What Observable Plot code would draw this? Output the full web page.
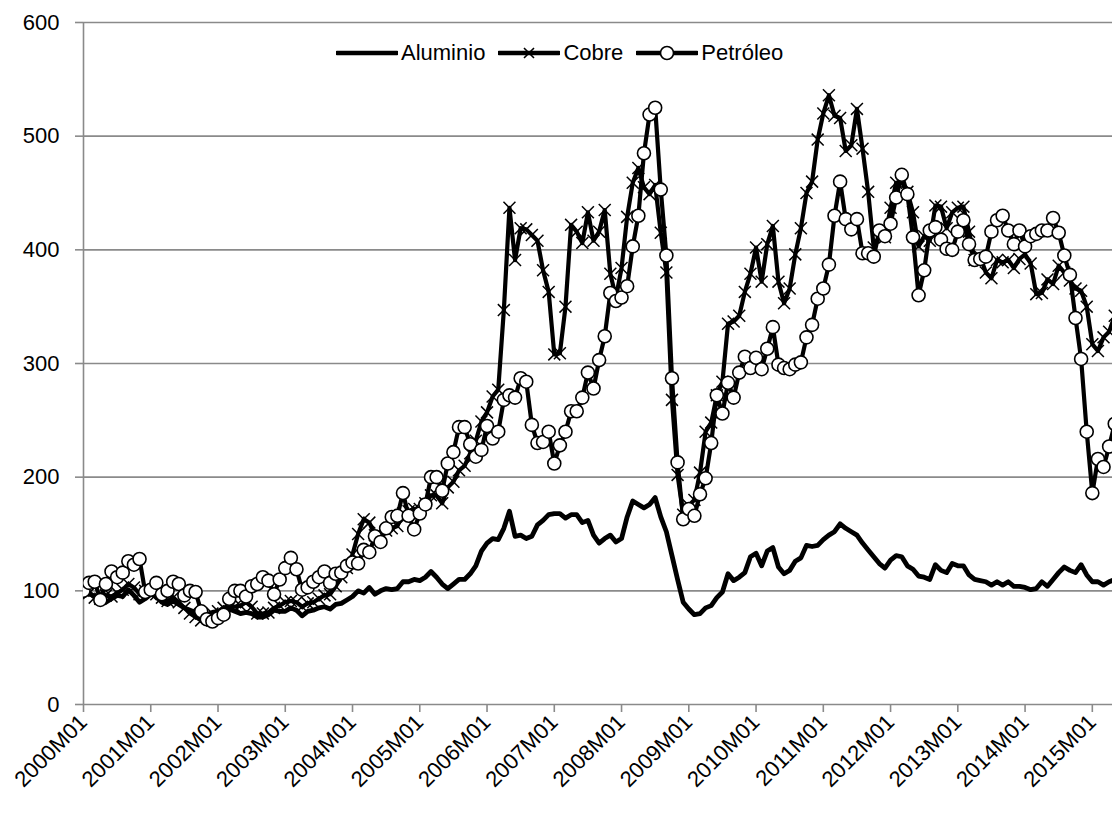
<!DOCTYPE html>
<html><head><meta charset="utf-8">
<script src="https://cdn.jsdelivr.net/npm/d3@7"></script>
<script src="https://cdn.jsdelivr.net/npm/@observablehq/plot@0.6"></script>
<style>
html,body{margin:0;padding:0;background:#fff;overflow:hidden}
#wrap{position:relative;width:1112px;height:815px;font-family:"Liberation Sans",Arial,sans-serif}
#legend{position:absolute;top:40px;left:336px;display:flex;align-items:center;font-size:22px;color:#000;white-space:nowrap}
#legend .item{display:flex;align-items:center;margin-right:13px}
#legend svg{display:block;margin-right:3px}
</style></head><body><div id="wrap"></div>
<script>
const tickLabels = ["2000M01","2001M01","2002M01","2003M01","2004M01","2005M01","2006M01","2007M01","2008M01","2009M01","2010M01","2011M01","2012M01","2013M01","2014M01","2015M01"];
const seriesNames = ["Aluminio","Cobre","Petróleo"];
const yTicks = [0,100,200,300,400,500,600];

const aluminio = [
100,98,95,91,90,93,96,95,101,96,90,93,
97,95,90,88,91,88,85,83,81,77,79,81,
82,83,84,82,80,81,80,77,77,79,83,82,
82,85,83,78,82,83,85,86,84,88,89,92,
95,100,98,103,97,100,102,101,102,108,108,110,
109,112,117,112,106,102,106,110,110,115,122,135,
142,146,145,155,170,148,149,146,148,158,162,167,
168,168,164,167,167,160,162,149,142,146,149,143,
146,165,179,176,173,176,182,165,152,131,110,90,
84,79,80,85,87,94,99,115,109,112,116,130,
133,122,135,138,121,115,118,126,129,140,139,140,
145,149,152,159,155,152,149,142,136,130,124,120,
127,131,130,122,119,113,112,110,123,118,116,124,
122,122,114,110,109,108,105,108,105,108,104,104,
103,101,102,108,104,110,116,121,118,116,123,114,
108,108,105,108,110];

const cobre = [
100,98,94,93,96,95,98,101,106,103,97,100,
97,97,94,91,94,90,85,80,77,74,77,80,
82,85,87,86,87,90,86,80,80,81,85,87,
90,91,90,86,89,90,93,96,97,104,112,120,
132,150,163,160,149,146,153,155,157,168,170,172,
172,177,184,184,177,191,196,206,210,221,232,249,
257,271,277,347,437,391,419,418,413,408,382,363,
308,309,350,422,416,406,433,408,416,435,379,358,
384,429,459,472,455,449,457,415,380,268,202,167,
175,180,204,240,248,272,284,335,337,342,363,379,
402,372,405,421,372,353,366,396,419,450,460,497,
520,536,518,516,487,492,524,489,451,402,412,411,
437,459,460,451,433,403,412,408,439,438,419,433,
437,438,416,391,394,380,375,391,389,391,384,392,
396,388,361,362,374,370,386,380,373,366,364,350,
317,311,323,328,342];

const petroleo = [
100,107,108,92,106,117,112,116,126,123,128,99,
101,107,97,100,108,106,96,100,99,82,75,73,
76,79,93,100,100,95,104,106,112,109,97,110,
120,129,119,101,103,108,112,117,107,115,116,122,
125,124,136,134,148,143,155,165,166,186,166,154,
168,176,200,200,188,212,222,244,244,229,218,224,
245,234,240,268,272,270,287,284,246,230,231,240,
212,228,240,258,258,270,292,278,303,324,362,355,
358,368,403,430,485,519,525,453,395,287,213,163,
172,166,185,199,230,272,256,283,270,292,306,296,
305,295,313,332,299,296,295,299,301,323,334,357,
366,387,430,460,427,418,427,397,397,394,417,412,
423,446,466,449,411,360,382,417,420,409,401,400,
416,426,405,391,392,394,416,426,430,417,405,417,
403,412,414,417,417,428,415,395,378,340,304,240,
186,216,209,227,247];

const months = aluminio.map((_, i) => `${2000 + Math.floor(i / 12)}M${String(i % 12 + 1).padStart(2, "0")}`);
const toRows = (vals, name) => vals.map((v, i) => ({i, month: months[i], v, name}));
const aluRows = toRows(aluminio, seriesNames[0]);
const cobRows = toRows(cobre, seriesNames[1]);
const petRows = toRows(petroleo, seriesNames[2]);

const W = 1112, H = 815, ML = 83, MT = 22, MB = 111, MR = 0;
const monthPx = (1112 - 83) / 183.6;
const xMax = (W - ML - MR) / monthPx;
const grid = "#8a8a8a";
const font = "Liberation Sans, Arial, sans-serif";

const chart = Plot.plot({
  width: W, height: H,
  marginLeft: ML, marginRight: MR, marginTop: MT, marginBottom: MB,
  style: {fontFamily: font, fontSize: "22px", color: "#000", background: "#fff", overflow: "visible"},
  x: {type: "linear", domain: [0, xMax]},
  y: {domain: [0, 600]},
  marks: [
    Plot.gridY(yTicks, {stroke: grid, strokeOpacity: 1, strokeWidth: 1.6}),
    Plot.ruleX([0], {stroke: grid, strokeWidth: 1.6}),
    Plot.axisY(yTicks, {tickSize: 8, tickPadding: 16, stroke: grid, strokeWidth: 1.6, fontSize: 22, fill: "#000", label: null}),
    Plot.axisX(d3.range(0, 181, 12), {tickSize: 8, tickPadding: 6, stroke: grid, strokeWidth: 1.6, tickRotate: -45, fontSize: 22, fill: "#000", label: null,
      tickFormat: d => tickLabels[d / 12]}),
    Plot.line(aluRows, {x: "i", y: "v", stroke: "#000", strokeWidth: 4.8, clip: true}),
    Plot.line(cobRows, {x: "i", y: "v", stroke: "#000", strokeWidth: 4.2, clip: true}),
    Plot.dot(cobRows, {x: "i", y: "v", symbol: "times", r: 5.5, stroke: "#000", strokeWidth: 1.5, clip: true}),
    Plot.line(petRows, {x: "i", y: "v", stroke: "#000", strokeWidth: 4.2, clip: true}),
    Plot.dot(petRows, {x: "i", y: "v", symbol: "circle", r: 6.5, fill: "#fff", stroke: "#000", strokeWidth: 1.6, clip: true})
  ]
});

const wrap = document.getElementById("wrap");
wrap.appendChild(chart);

// legend
const legend = document.createElement("div");
legend.id = "legend";
const icon = (kind) => {
  let s = `<svg width="62" height="20" viewBox="0 0 62 20"><line x1="1" y1="10" x2="61" y2="10" stroke="#000" stroke-width="4.5" stroke-linecap="round"/>`;
  if (kind === 1) s += `<path d="M26,5L36,15M36,5L26,15" stroke="#000" stroke-width="1.6"/>`;
  if (kind === 2) s += `<circle cx="31" cy="10" r="6.5" fill="#fff" stroke="#000" stroke-width="1.6"/>`;
  return s + `</svg>`;
};
seriesNames.forEach((n, k) => {
  const it = document.createElement("div");
  it.className = "item";
  it.innerHTML = icon(k) + `<span>${n}</span>`;
  legend.appendChild(it);
});
wrap.appendChild(legend);
</script></body></html>
